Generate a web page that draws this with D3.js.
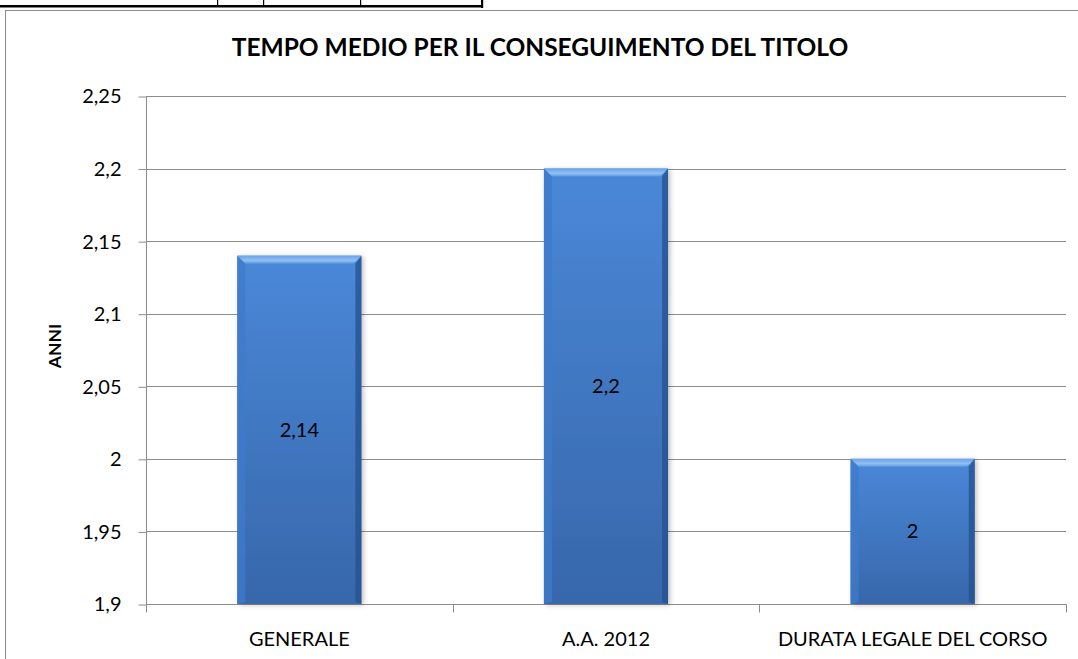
<!DOCTYPE html>
<html><head><meta charset="utf-8">
<script src="https://cdn.jsdelivr.net/npm/d3@7"></script>
<style>
  body { margin: 0; background: #fff; }
  svg { display: block; font-family: Lato, "Open Sans", sans-serif; }
</style>
</head><body>
<svg id="chart" width="1078" height="659"></svg>
<script>
// dati
var categories = ["GENERALE", "A.A. 2012", "DURATA LEGALE DEL CORSO"];
var values = [2.14, 2.2, 2.0];
var yTicks = [1.9, 1.95, 2, 2.05, 2.1, 2.15, 2.2, 2.25];
var title = "TEMPO MEDIO PER IL CONSEGUIMENTO DEL TITOLO";
var yTitle = "ANNI";

var it = d3.formatLocale({decimal: ",", thousands: ".", grouping: [3], currency: ["€", ""]});
var fmt = function(v) { return it.format("~g")(+v.toFixed(3)); };

var svg = d3.select("#chart");
var pLeft = 146, pRight = 1066, pTop = 96, pBottom = 604;

// pezzo di tabella sopra il grafico
var tbl = svg.append("g");
tbl.append("rect").attr("x", 0).attr("y", 5).attr("width", 483).attr("height", 2.5).attr("fill", "#000");
[217, 263, 360].forEach(function(px) {
  tbl.append("rect").attr("x", px).attr("y", 0).attr("width", 1.2).attr("height", 7).attr("fill", "#000");
});
tbl.append("rect").attr("x", 481).attr("y", 0).attr("width", 2.2).attr("height", 8).attr("fill", "#000");

// bordo area grafico
svg.append("rect").attr("x", 5.5).attr("y", 10.5).attr("width", 1100).attr("height", 700)
  .attr("fill", "none").attr("stroke", "#8c8c8c").attr("stroke-width", 1);

var defs = svg.append("defs");
var g1 = defs.append("linearGradient").attr("id", "body").attr("x1", 0).attr("y1", 0).attr("x2", 0).attr("y2", 1);
g1.append("stop").attr("offset", "0%").attr("stop-color", "#4a88d8");
g1.append("stop").attr("offset", "100%").attr("stop-color", "#3767ab");
var g2 = defs.append("linearGradient").attr("id", "topbev").attr("x1", 0).attr("y1", 0).attr("x2", 0).attr("y2", 1);
g2.append("stop").attr("offset", "0%").attr("stop-color", "#6aa3e6");
g2.append("stop").attr("offset", "60%").attr("stop-color", "#8fc0f3");
g2.append("stop").attr("offset", "100%").attr("stop-color", "#5c97df");
var f = defs.append("filter").attr("id", "shadow").attr("x", "-20%").attr("y", "-20%").attr("width", "140%").attr("height", "140%");
f.append("feDropShadow").attr("dx", 2).attr("dy", 1).attr("stdDeviation", 2.5).attr("flood-color", "#000").attr("flood-opacity", 0.25);

var x = d3.scaleBand().domain(categories).range([pLeft, pRight]).padding(0);
var y = d3.scaleLinear().domain([1.9, 2.25]).range([pBottom, pTop]);

// griglia
svg.append("g").selectAll("line").data(yTicks.slice(1)).join("line")
  .attr("x1", pLeft).attr("x2", pRight)
  .attr("y1", function(d) { return Math.round(y(d)) + 0.5; })
  .attr("y2", function(d) { return Math.round(y(d)) + 0.5; })
  .attr("stroke", "#8c8c8c").attr("stroke-width", 1);

// asse y
var yAxis = svg.append("g").attr("transform", "translate(" + (pLeft + 0.5) + ",0.5)")
  .call(d3.axisLeft(y).tickValues(yTicks).tickSize(8).tickPadding(17).tickFormat(fmt));
yAxis.select(".domain").attr("stroke", "#8c8c8c").attr("d", "M0," + pTop + "V" + pBottom);
yAxis.selectAll(".tick line").attr("stroke", "#8c8c8c");
yAxis.selectAll(".tick text").attr("font-size", 20).attr("fill", "#000").attr("font-family", "Lato, sans-serif");

// asse x
var xAxis = svg.append("g").attr("transform", "translate(0," + (pBottom + 0.5) + ")");
xAxis.append("line").attr("x1", pLeft).attr("x2", pRight + 0.5).attr("stroke", "#8c8c8c");
xAxis.selectAll("line.t").data(d3.range(categories.length + 1)).join("line").attr("class", "t")
  .attr("x1", function(i) { return Math.round(pLeft + i * x.step()) + 0.5; })
  .attr("x2", function(i) { return Math.round(pLeft + i * x.step()) + 0.5; })
  .attr("y1", 0).attr("y2", 8).attr("stroke", "#8c8c8c");
xAxis.selectAll("text").data(categories).join("text")
  .attr("x", function(d) { return x(d) + x.bandwidth() / 2; })
  .attr("y", 41).attr("text-anchor", "middle").attr("font-size", 20).attr("fill", "#000")
  .text(function(d) { return d; });

// barre con effetto bisello
var bw = x.bandwidth() / 2.47, bev = 8;
var bars = svg.append("g").selectAll("g").data(values).join("g")
  .attr("transform", function(d, i) {
    return "translate(" + (x(categories[i]) + (x.bandwidth() - bw) / 2) + "," + y(d) + ")";
  });
bars.append("rect").attr("width", bw).attr("height", function(d) { return pBottom - y(d); })
  .attr("fill", "url(#body)").attr("filter", "url(#shadow)");
bars.append("path").attr("fill", "url(#topbev)")
  .attr("d", "M0,0H" + bw + "L" + (bw - bev) + "," + bev + "H" + bev + "Z");
bars.append("path").attr("fill", "#3f7bc9").attr("opacity", 0.8)
  .attr("d", function(d) { var h = pBottom - y(d); return "M0,0L" + bev + "," + bev + "V" + (h - 2) + "L0," + h + "Z"; });
bars.append("path").attr("fill", "#24508e").attr("opacity", 0.75)
  .attr("d", function(d) { var h = pBottom - y(d); return "M" + bw + ",0L" + (bw - bev + 2) + "," + bev + "V" + (h - 2) + "L" + bw + "," + h + "Z"; });
bars.append("text").attr("x", bw / 2).attr("y", function(d) { return (pBottom - y(d)) / 2 + 7; })
  .attr("text-anchor", "middle").attr("font-size", 20).attr("fill", "#000")
  .text(function(d) { return fmt(d); });

// titoli
svg.append("text").attr("x", 540).attr("y", 56).attr("text-anchor", "middle")
  .attr("font-size", 24.5).attr("font-weight", "bold").attr("fill", "#000").text(title);
svg.append("text").attr("transform", "translate(61,346) rotate(-90)").attr("text-anchor", "middle")
  .attr("font-size", 17.5).attr("font-weight", "bold").attr("fill", "#000").text(yTitle);
</script>
</body></html>
